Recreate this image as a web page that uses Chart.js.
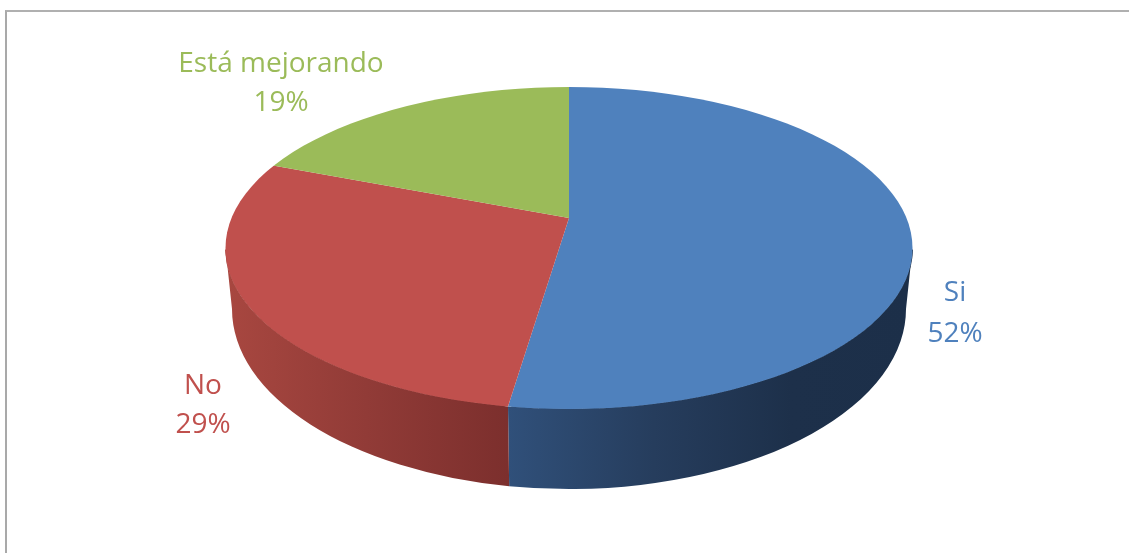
<!DOCTYPE html>
<html>
<head>
<meta charset="utf-8">
<title>Pie</title>
<style>
  html, body { margin: 0; background: #fff; overflow: hidden; }
  #frame { position: absolute; left: 5px; top: 10px; width: 1124px; height: 543px;
           border-left: 2px solid #a9a9a9; border-top: 2px solid #b0b0b0; box-sizing: border-box; }
  canvas { position: absolute; left: 0; top: 0; }
</style>
<script src="https://cdn.jsdelivr.net/npm/chart.js@4"></script>
</head>
<body>
<div id="frame"></div>
<canvas id="pie" width="1129" height="553"></canvas>
<script>
const categories = ["Si", "No", "Está mejorando"];
const values = [52, 29, 19];
const colors = ["#4f81bd", "#c0504d", "#9bbb59"];

// side wall shading, left to right
const wallStops = [
  [[0, "#30507a"], [0.36, "#263d5d"], [0.7, "#1d304a"], [1, "#1c2f49"]],
  [[0, "#a84740"], [0.5, "#913b37"], [1, "#7c2f2d"]],
  [[0, "#7a9440"], [1, "#5f7431"]],
];

// lid and foot of the drum as ellipses, foot is a bit narrower (perspective)
const lid = { cx: 569, cy: 248, rx: 343.5, ry: 161 };
const foot = { cx: 569, cy: 309, rx: 337, ry: 180 };

// view tilt applied to the pie around its centre
const skew = 0.0214;
const squash = 0.393;

// label centre x and the two baselines
const labelPos = [
  { x: 955, y1: 301, y2: 342 },
  { x: 203, y1: 394, y2: 433 },
  { x: 281, y1: 72, y2: 111 },
];

// where a slice edge leaves the pie, as a parameter on the lid ellipse
function rimParam(px, py, theta) {
  const dx = Math.cos(theta);
  const dy = skew * Math.cos(theta) + squash * Math.sin(theta);
  const ox = (px - lid.cx) / lid.rx, oy = (py - lid.cy) / lid.ry;
  const ux = dx / lid.rx, uy = dy / lid.ry;
  const a = ux * ux + uy * uy;
  const b = 2 * (ox * ux + oy * uy);
  const c = ox * ox + oy * oy - 1;
  const s = (-b + Math.sqrt(b * b - 4 * a * c)) / (2 * a);
  let t = Math.atan2(oy + s * uy, ox + s * ux);
  if (t < -Math.PI / 2 - 1e-6) t += Math.PI * 2;
  return t;
}

const drumPlugin = {
  id: "drum",
  beforeDatasetsDraw(chart) {
    const ctx = chart.ctx;
    const arcs = chart.getDatasetMeta(0).data;

    arcs.forEach((arc, i) => {
      const t0 = Math.max(rimParam(arc.x, arc.y, arc.startAngle), 0);
      const t1 = Math.min(rimParam(arc.x, arc.y, arc.endAngle), Math.PI);
      if (t1 <= t0) return;

      const xa = lid.cx + lid.rx * Math.cos(t0);
      const xb = lid.cx + lid.rx * Math.cos(t1);
      const grad = ctx.createLinearGradient(xb, 0, xa, 0);
      wallStops[i].forEach((s) => grad.addColorStop(s[0], s[1]));

      ctx.beginPath();
      ctx.ellipse(lid.cx, lid.cy, lid.rx, lid.ry, 0, t0, t1);
      ctx.ellipse(foot.cx, foot.cy, foot.rx, foot.ry, 0, t1, t0, true);
      ctx.closePath();
      ctx.fillStyle = grad;
      ctx.fill();

      // stops a light seam along the lid edge
      ctx.beginPath();
      ctx.ellipse(lid.cx, lid.cy, lid.rx, lid.ry, 0, t0 + 0.01, t1 - 0.01);
      ctx.strokeStyle = grad;
      ctx.lineWidth = 1;
      ctx.stroke();
    });

    // top face: chart.js draws the slices, squashed and cut to the lid ellipse
    const c = arcs[0];
    ctx.save();
    ctx.beginPath();
    ctx.ellipse(lid.cx, lid.cy, lid.rx, lid.ry, 0, 0, Math.PI * 2);
    ctx.clip();
    ctx.translate(c.x, c.y);
    ctx.transform(1, skew, 0, squash, 0, 0);
    ctx.translate(-c.x, -c.y);
  },
  afterDatasetsDraw(chart) {
    chart.ctx.restore();
  },
  afterDraw(chart) {
    const ctx = chart.ctx;
    ctx.save();
    ctx.font = '28px "Open Sans", Lato, sans-serif';
    ctx.textAlign = "center";
    categories.forEach((name, i) => {
      ctx.fillStyle = colors[i];
      ctx.fillText(name, labelPos[i].x, labelPos[i].y1);
      ctx.fillText(values[i] + "%", labelPos[i].x, labelPos[i].y2);
    });
    ctx.restore();
  },
};

new Chart(document.getElementById("pie"), {
  type: "pie",
  data: {
    labels: categories,
    datasets: [
      {
        data: values,
        backgroundColor: colors,
        borderWidth: 0,
        clip: false,
      },
    ],
  },
  options: {
    responsive: false,
    animation: false,
    events: [],
    radius: 540,
    layout: {
      padding: { left: 9, bottom: 117 },
    },
    plugins: {
      legend: { display: false },
      tooltip: { enabled: false },
    },
  },
  plugins: [drumPlugin],
});
</script>
</body>
</html>
